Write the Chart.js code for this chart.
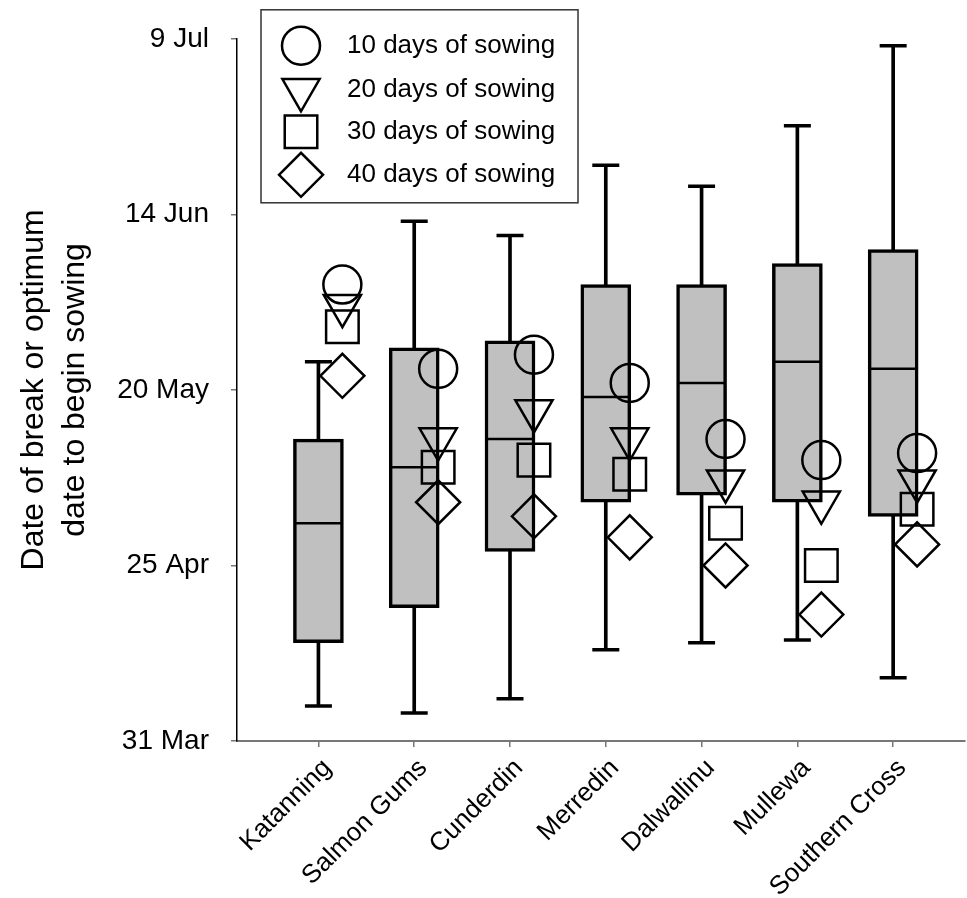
<!DOCTYPE html>
<html><head><meta charset="utf-8">
<script src="https://cdn.jsdelivr.net/npm/chart.js@4/dist/chart.umd.min.js"></script>
<style>html,body{margin:0;padding:0;background:#fff;overflow:hidden}#wrap{position:relative;width:967px;height:898px}</style>
</head><body><div id="wrap"><canvas id="c"></canvas></div>
<script>
// Values are day of year (31 Mar = day 90)
const sites = ["Katanning","Salmon Gums","Cunderdin","Merredin","Dalwallinu","Mullewa","Southern Cross"];
const whiskerLow  = [95, 94, 96, 103, 104, 104.4, 99];
const boxLow      = [104, 109, 117, 124, 125, 124, 122];
const median      = [121, 129, 133, 139, 141, 144, 143];
const boxHigh     = [133, 146, 147, 155, 155, 158, 160];
const whiskerHigh = [144, 164, 162, 172, 169, 177.6, 189];
const days10 = [155, 143, 145, 141, 133, 130, 131];
const days20 = [152, 133, 137, 133, 127, 124, 127];
const days30 = [149, 129, 130, 128, 121, 115, 123];
const days40 = [142, 124, 122, 119, 115, 108, 118];
const tickDays   = [90, 115, 140, 165, 190];
const tickLabels = ["31 Mar","25 Apr","20 May","14 Jun","9 Jul"];
const seriesLabels = ["10 days of sowing","20 days of sowing","30 days of sowing","40 days of sowing"];

const FONT = "'Liberation Sans', Arial, sans-serif";
const markerOffset = 0.25;
const markerStyles = [
  {pointStyle:'circle',   radius:19,   rotation:0},
  {pointStyle:'triangle', radius:21.5, rotation:180},
  {pointStyle:'rect',     radius:23,   rotation:0},
  {pointStyle:'rectRot',  radius:22,   rotation:0}
];
const seriesValues = [days10, days20, days30, days40];

const markerSets = seriesValues.map((vals, k) => ({
  type: 'line', label: seriesLabels[k], showLine: false, order: 1,
  data: vals.map((v, i) => ({x: i + 1 + markerOffset, y: v})),
  pointStyle: markerStyles[k].pointStyle,
  pointRadius: markerStyles[k].radius,
  pointRotation: markerStyles[k].rotation,
  pointBorderWidth: 2.5,
  pointBorderColor: '#000',
  pointBackgroundColor: 'rgba(0,0,0,0)'
}));

const legendBox = {
  id: 'legendBox',
  afterDatasetsDraw(chart) {
    const ctx = chart.ctx, a = chart.chartArea;
    const bx = a.left + 24, by = a.top - 29, bw = 317, bh = 193;
    ctx.save();
    ctx.lineWidth = 1.5; ctx.strokeStyle = '#333';
    ctx.strokeRect(bx, by, bw, bh);
    const rowY = [36, 80, 122, 165];
    markerStyles.forEach((m, k) => {
      const cy = by + rowY[k];
      ctx.strokeStyle = '#000'; ctx.fillStyle = 'rgba(0,0,0,0)'; ctx.lineWidth = 2.5;
      Chart.helpers.drawPoint(ctx, {pointStyle: m.pointStyle, radius: m.radius, rotation: m.rotation, borderWidth: 2.5}, bx + 40, cy);
      ctx.fillStyle = '#000';
      ctx.font = '26px ' + FONT;
      ctx.textBaseline = 'middle'; ctx.textAlign = 'left';
      ctx.fillText(seriesLabels[k], bx + 86, cy);
    });
    ctx.restore();
  }
};

new Chart(document.getElementById('c'), {
  type: 'bar',
  data: {
    datasets: [
      { type: 'bar', label: 'whisker', order: 10, grouped: false,
        data: sites.map((s, i) => ({x: i + 1, y: [whiskerLow[i], whiskerHigh[i]]})),
        backgroundColor: '#000', borderWidth: 0, barThickness: 3 },
      { type: 'bar', label: 'box', order: 9, grouped: false,
        data: sites.map((s, i) => ({x: i + 1, y: [boxLow[i], boxHigh[i]]})),
        backgroundColor: '#c0c0c0', borderColor: '#000', borderWidth: 3.5, borderSkipped: false, barThickness: 50 },
      { type: 'line', label: 'median', order: 8, showLine: false,
        data: sites.map((s, i) => ({x: i + 1, y: median[i]})),
        pointStyle: 'line', pointRadius: 23, pointBorderWidth: 2.5, pointBorderColor: '#000' },
      { type: 'line', label: 'caps', order: 8, showLine: false,
        data: sites.flatMap((s, i) => [{x: i + 1, y: whiskerLow[i]}, {x: i + 1, y: whiskerHigh[i]}]),
        pointStyle: 'line', pointRadius: 13.5, pointBorderWidth: 3.5, pointBorderColor: '#000' },
      ...markerSets
    ]
  },
  options: {
    responsive: true, maintainAspectRatio: false, animation: false, events: [],
    layout: {autoPadding: false, padding: {top: 37, right: 2, left: 0, bottom: 0}},
    plugins: {legend: {display: false}, tooltip: {enabled: false}},
    scales: {
      x: {
        type: 'linear', min: 0.15, max: 7.75, offset: false,
        afterBuildTicks: ax => { ax.ticks = sites.map((s, i) => ({value: i + 1})); },
        afterFit: s => { s.height = 157; s.paddingLeft = 0; s.paddingRight = 0; },
        ticks: {callback: v => sites[Math.round(v) - 1] || '', maxRotation: 45, minRotation: 45, autoSkip: false,
                font: {size: 26, family: FONT}, color: '#000', padding: 6, labelOffset: 9},
        grid: {drawOnChartArea: false, drawTicks: true, tickLength: 6, color: '#777', lineWidth: 1.5, offset: false},
        border: {color: '#777', width: 2}
      },
      y: {
        type: 'linear', min: 90, max: 190,
        afterBuildTicks: ax => { ax.ticks = tickDays.map(v => ({value: v})); },
        afterFit: s => { s.width = 237; },
        ticks: {callback: v => tickLabels[tickDays.indexOf(v)], font: {size: 28, family: FONT}, color: '#000', padding: 22},
        grid: {drawOnChartArea: false, drawTicks: true, tickLength: 6, color: '#777', lineWidth: 1.5},
        border: {color: '#000', width: 1.5},
        title: {display: true, text: ["Date of break or optimum", "date to begin sowing"],
                font: {size: 32, family: FONT, lineHeight: 1.28}, color: '#000', padding: {top: 14, bottom: 0}}
      }
    }
  },
  plugins: [legendBox]
});
</script></body></html>
